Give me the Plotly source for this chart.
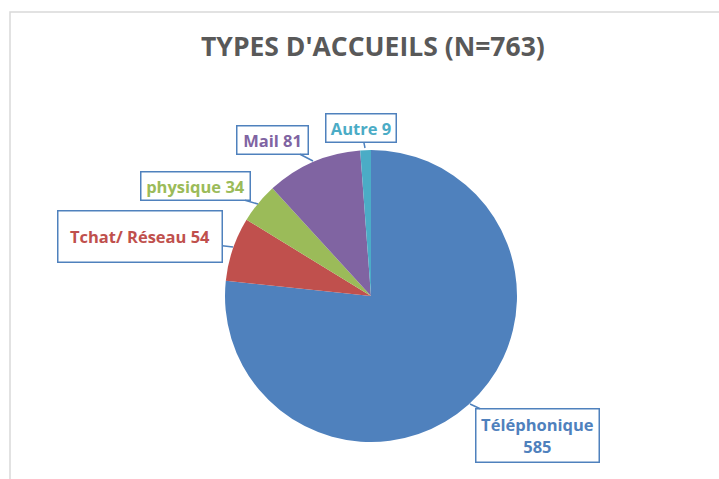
import plotly.graph_objects as go

categories = ["Téléphonique", "Tchat/ Réseau", "physique", "Mail", "Autre"]
values = [585, 54, 34, 81, 9]
colors = ["#4F81BD", "#C0504D", "#9BBB59", "#8064A2", "#4BACC6"]
title_text = "TYPES D'ACCUEILS (N=763)"

W, H = 719, 479

fig = go.Figure(go.Pie(
    labels=categories, values=values, sort=False, direction="clockwise", rotation=0,
    marker=dict(colors=colors, line=dict(width=0)),
    textinfo="none", hoverinfo="label+value", showlegend=False,
    domain=dict(x=[225 / W, 517 / W], y=[1 - 442 / H, 1 - 150 / H]),
))

# callout layout: (box centre x, box centre y, box w, box h, tip x, tip y) in pixels
callouts = [
    (537.5, 435.5, 125, 55, 470, 404),
    (140, 236.5, 166, 53, 233, 247),
    (195.5, 186, 111, 30, 258, 204),
    (272.5, 140, 73, 30, 313, 161),
    (361, 128, 72, 30, 365, 148),
]

annotations = []
for cat, val, col, (cx, cy, bw, bh, tx, ty) in zip(categories, values, colors, callouts):
    txt = f"{cat}<br>{val}" if cat == "Téléphonique" else f"{cat} {val}"
    annotations.append(dict(
        xref="paper", yref="paper", x=tx / W, y=1 - ty / H,
        ax=cx - tx, ay=cy - ty, showarrow=True, arrowhead=0, arrowwidth=1.5,
        arrowcolor="#4F81BD", standoff=0,
        text=f"<b>{txt}</b>", font=dict(family="Open Sans", size=16.5, color=col),
        bgcolor="white", bordercolor="#4F81BD", borderwidth=1.5, borderpad=1,
        width=bw - 5, height=bh - 5, align="center", valign="middle",
    ))

annotations.append(dict(
    xref="paper", yref="paper", x=373 / W, y=1 - 46 / H, showarrow=False,
    text=f"<b>{title_text}</b>", font=dict(family="Open Sans", size=26.5, color="#595959"),
    xanchor="center", yanchor="middle",
))

fig.update_layout(
    width=W, height=H, margin=dict(l=0, r=0, t=0, b=0),
    paper_bgcolor="white", plot_bgcolor="white",
    annotations=annotations,
    shapes=[dict(type="rect", xref="paper", yref="paper",
                 x0=10 / W, x1=1.02, y0=-0.02, y1=1 - 12 / H,
                 line=dict(color="#D9D9D9", width=1.5), layer="below")],
)

fig.write_html("out.html", config={"displayModeBar": False},
               post_script="document.body.style.margin='0px';")
